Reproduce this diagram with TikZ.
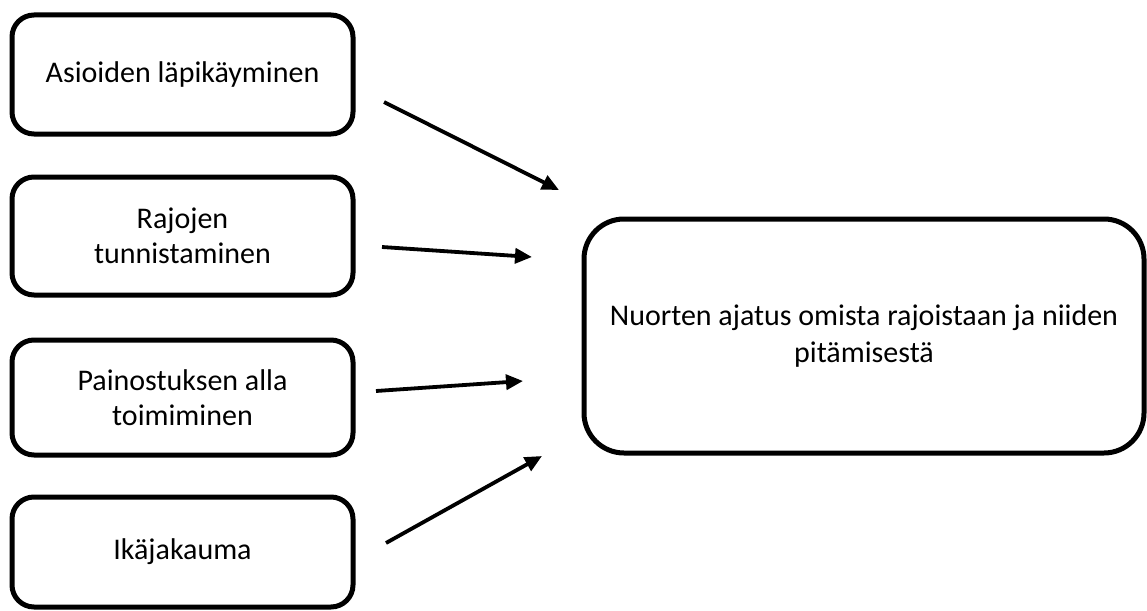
\documentclass[tikz,border=0pt]{standalone}
\usepackage{fontspec}
\setmainfont{Carlito}
\usetikzlibrary{positioning,calc,arrows.meta}

\tikzset{
    factor/.style={draw, line width=5pt, rounded corners=22pt, minimum width=341pt, align=center, font=\fontsize{30}{35}\selectfont, inner sep=0pt},
    outcome/.style={draw, line width=5pt, rounded corners=40pt, minimum width=560pt, minimum height=234pt, align=center, font=\fontsize{30}{37}\selectfont, inner sep=0pt},
    arr/.style={line width=3.8pt, -{Triangle[length=17pt,width=15pt]}}
}

\begin{document}
\begin{tikzpicture}[x=1pt, y=-1pt]
    \useasboundingbox (0,0) rectangle (1147,610);

    % Factors
    \node[factor, minimum height=119pt] (asiat) at (182.5,74.5) {Asioiden läpikäyminen};
    \node[factor, minimum height=118pt] (rajat) at (182.5,236) {Rajojen\\tunnistaminen};
    \node[factor, minimum height=115pt] (paine) at (182.5,397.5) {Painostuksen alla\\toimiminen};
    \node[factor, minimum height=110pt] (ika) at (182.5,552) {Ikäjakauma};

    % Outcome
    \node[outcome] (ajatus) at (864,336) {Nuorten ajatus omista rajoistaan ja niiden\\pitämisestä};

    % Arrow ends
    \coordinate (asiatS) at (384,102);
    \coordinate (asiatE) at (559,190);
    \coordinate (rajatS) at (382,247);
    \coordinate (rajatE) at (532,257);
    \coordinate (paineS) at (376,391);
    \coordinate (paineE) at (523,381);
    \coordinate (ikaS) at (386,543);
    \coordinate (ikaE) at (542,456);

    \draw[arr] (asiatS) -- (asiatE);
    \draw[arr] (rajatS) -- (rajatE);
    \draw[arr] (paineS) -- (paineE);
    \draw[arr] (ikaS) -- (ikaE);
\end{tikzpicture}
\end{document}
